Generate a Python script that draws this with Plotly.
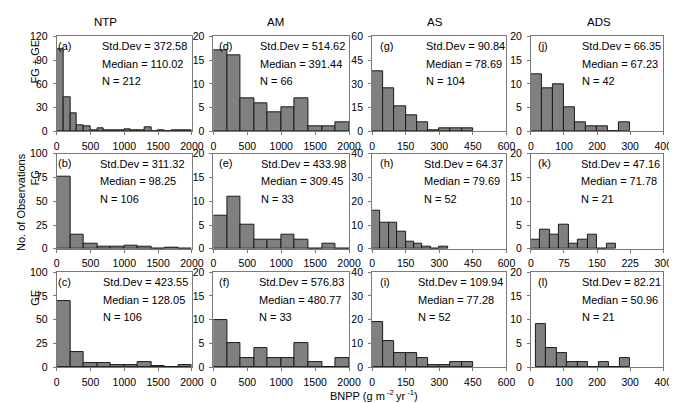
import plotly.graph_objects as go

W, H = 677, 403
FONT = "Liberation Sans, Arial, sans-serif"

col_titles = ["NTP", "AM", "AS", "ADS"]
row_titles = ["FG + GE", "FG", "GE"]
panel_letters = [["(a)", "(d)", "(g)", "(j)"],
                 ["(b)", "(e)", "(h)", "(k)"],
                 ["(c)", "(f)", "(i)", "(l)"]]

# histogram counts
counts_a = [103, 43, 23, 8, 7, 2, 4, 2, 2, 2, 3, 2, 2, 5, 0, 1, 0, 1, 1, 1]
counts_d = [17, 16, 7, 6, 4, 5, 7, 1, 1, 2]
counts_g = [38, 27, 16, 10, 6, 1, 2, 2, 2]
counts_j = [12, 9, 10, 5, 2, 1, 1, 0, 2]
counts_b = [76, 15, 5, 2, 2, 3, 2, 0, 1, 0]
counts_e = [7, 11, 5, 2, 2, 3, 2, 0, 1, 0]
counts_h = [16, 11, 11, 7, 3, 2, 1, 0, 1]
counts_k = [2, 4, 3, 5, 1, 2, 3, 0, 1]
counts_c = [70, 16, 4, 4, 2, 2, 5, 1, 0, 2]
counts_f = [10, 5, 2, 4, 2, 2, 5, 1, 0, 2]
counts_i = [19, 11, 6, 6, 4, 1, 1, 2, 2]
counts_l = [9, 4, 3, 1, 1, 0, 1, 0, 2]

# bin (start, width) for each panel
bins_a, bins_d, bins_g, bins_j = (0, 100), (0, 200), (0, 50), (0, 400 / 12)
bins_b, bins_e, bins_h, bins_k = (0, 200), (0, 200), (0, 37.5), (0, 300 / 14)
bins_c, bins_f, bins_i, bins_l = (0, 200), (0, 200), (0, 50), (15, 285 / 9)

counts = [[counts_a, counts_d, counts_g, counts_j],
          [counts_b, counts_e, counts_h, counts_k],
          [counts_c, counts_f, counts_i, counts_l]]
bins = [[bins_a, bins_d, bins_g, bins_j],
        [bins_b, bins_e, bins_h, bins_k],
        [bins_c, bins_f, bins_i, bins_l]]

std_devs = [[372.58, 514.62, 90.84, 66.35],
            [311.32, 433.98, 64.37, 47.16],
            [423.55, 576.83, 109.94, 82.21]]
medians = [[110.02, 391.44, 78.69, 67.23],
           [98.25, 309.45, 79.69, 71.78],
           [128.05, 480.77, 77.28, 50.96]]
n_obs = [[212, 66, 104, 42], [106, 33, 52, 21], [106, 33, 52, 21]]

# axis ranges / tick steps
x_ranges = [[(0, 2000, 500), (0, 2000, 500), (0, 600, 150), (0, 400, 100)],
            [(0, 2000, 500), (0, 2000, 500), (0, 600, 150), (0, 300, 75)],
            [(0, 2000, 500), (0, 2000, 500), (0, 600, 150), (0, 400, 100)]]
y_ranges = [[(0, 120, 30), (0, 20, 5), (0, 60, 15), (0, 20, 5)],
            [(0, 100, 25), (0, 20, 5), (0, 40, 10), (0, 20, 5)],
            [(0, 100, 25), (0, 20, 5), (0, 40, 10), (0, 20, 5)]]

# ---- layout geometry (pixels) ----
col_px = [(46.7, 185.0), (207.0, 345.7), (369.3, 506.7), (531.7, 667.0)]
row_px = [(23.0, 121.0), (144.0, 242.0), (266.0, 364.0)]
stat_left_px = [[92.7, 255.0, 424.0, 584.0],
                [90.7, 255.7, 422.7, 583.3],
                [94.3, 254.0, 416.7, 584.0]]
letter_off_px = [1.5, 6.0, 8.0, 7.0]
col_title_x = [97, 271, 434, 601]
row_title_y = [48.5, 169, 292]


def px_x(v):
    return v / W


def px_y(v):
    return 1 - v / H


fig = go.Figure()
layout = dict(
    width=W, height=H, margin=dict(l=0, r=0, t=0, b=0),
    paper_bgcolor="white", plot_bgcolor="white",
    showlegend=False, bargap=0,
    font=dict(family=FONT, size=11, color="black"),
)
annotations = []


def note(text, x, y, size=11, xanchor="left", angle=0):
    return dict(text=text, xref="paper", yref="paper", x=x, y=y,
                xanchor=xanchor, yanchor="middle", showarrow=False,
                textangle=angle, borderpad=0, borderwidth=0,
                font=dict(family=FONT, size=size, color="black"))


for r in range(3):
    for c in range(4):
        k = r * 4 + c + 1
        sfx = "" if k == 1 else str(k)
        start, width = bins[r][c]
        ys = counts[r][c]
        xs = [start + width * (i + 0.5) for i in range(len(ys))]
        fig.add_trace(go.Bar(
            x=xs, y=ys, width=[width] * len(ys),
            marker=dict(color="#808080", line=dict(color="#1a1a1a", width=1)),
            xaxis="x" + sfx, yaxis="y" + sfx, hoverinfo="x+y",
        ))
        x0, x1, xs_step = x_ranges[r][c]
        y0, y1, ys_step = y_ranges[r][c]
        l, rr = col_px[c]
        t, b = row_px[r]
        common = dict(showline=True, mirror=True, linecolor="#7a7a7a", linewidth=1,
                      showgrid=False, zeroline=False, ticks="outside", ticklen=3,
                      tickcolor="#7a7a7a", tickfont=dict(family=FONT, size=10.5, color="black"))
        layout["xaxis" + sfx] = dict(
            domain=[px_x(l), px_x(rr)], range=[x0, x1], tickmode="linear",
            tick0=x0, dtick=xs_step, anchor="y" + sfx, ticklabelstandoff=2, **common)
        layout["yaxis" + sfx] = dict(
            domain=[px_y(b), px_y(t)], range=[y0, y1], tickmode="linear",
            tick0=y0, dtick=ys_step, anchor="x" + sfx, ticklabelstandoff=3, **common)

        annotations.append(note(panel_letters[r][c], px_x(l + letter_off_px[c]), px_y(t + 10)))
        lines = [f"Std.Dev = {std_devs[r][c]:.2f}",
                 f"Median = {medians[r][c]:.2f}",
                 f"N = {n_obs[r][c]}"]
        for j, txt in enumerate(lines):
            annotations.append(note(txt, px_x(stat_left_px[r][c]), px_y(t + 10.2 + 18.1 * j)))

for c, title in enumerate(col_titles):
    annotations.append(note(title, px_x(col_title_x[c]), px_y(8), size=11.5, xanchor="center"))

for r, title in enumerate(row_titles):
    annotations.append(note(title, px_x(25), px_y(row_title_y[r]), xanchor="center", angle=-90))

annotations.append(note("No. of Observations", px_x(10), px_y(194), xanchor="center", angle=-90))
annotations.append(note("BNPP (g m<sup> -2 </sup>yr<sup> -1</sup>)", px_x(371), px_y(393),
                        xanchor="center"))

layout["annotations"] = annotations
fig.update_layout(**layout)
fig.write_html("out.html")
